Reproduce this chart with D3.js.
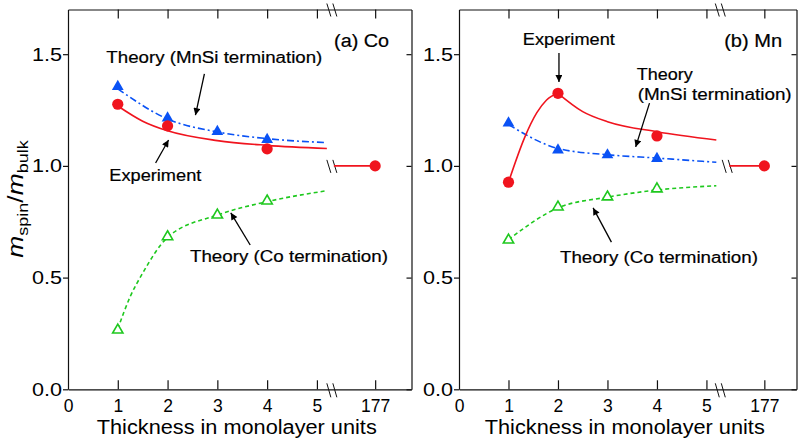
<!DOCTYPE html>
<html>
<head>
<meta charset="utf-8">
<script src="https://cdn.jsdelivr.net/npm/d3@7"></script>
<style>
  body { margin: 0; background: #fff; }
  svg { display: block; }
  text { font-family: "Liberation Sans", Arial, sans-serif; fill: #000; }
  .note { stroke: #000; stroke-width: 0.2; }
</style>
</head>
<body>
<svg></svg>
<script>
const width = 798, height = 442;

// monolayer positions and tick labels
const layers = [1, 2, 3, 4];
const expLayers = [1, 2, 4];
const xTickValues = [0, 1, 2, 3, 4, 5, 6.17];
const xTickLabels = ["0", "1", "2", "3", "4", "5", "177"];
const yTickValues = [0, 0.5, 1.0, 1.5];
const bulkValue = 1.0;

// (a) Co
const coExp = [1.276, 1.179, 1.076];
const coMnSi = [1.355, 1.214, 1.154, 1.118];
const coCoTerm = [0.265, 0.683, 0.78, 0.843];
// guide curves
const coExpCurveX = [1, 1.5, 2, 3, 4, 5.2];
const coExpCurveY = [1.268, 1.2, 1.157, 1.113, 1.092, 1.078];
const coMnSiCurveX = [1, 2, 3, 4, 5.2];
const coMnSiCurveY = [1.345, 1.21, 1.152, 1.122, 1.104];
const coCoCurveX = [1, 1.25, 1.5, 2, 3, 4, 5.2];
const coCoCurveY = [0.27, 0.415, 0.52, 0.68, 0.78, 0.84, 0.889];

// (b) Mn
const mnExp = [0.927, 1.325, 1.134];
const mnMnSi = [1.192, 1.071, 1.049, 1.033];
const mnCoTerm = [0.668, 0.816, 0.861, 0.897];
const mnExpRiseX = [1, 1.33, 1.57, 1.77, 2];
const mnExpRiseY = [0.927, 1.129, 1.237, 1.295, 1.325];
const mnExpDecayX = [2, 2.5, 3, 4, 5.2];
const mnExpDecayY = [1.325, 1.243, 1.198, 1.153, 1.116];
const mnMnSiCurveX = [1, 2, 3, 4, 5.2];
const mnMnSiCurveY = [1.185, 1.078, 1.05, 1.035, 1.016];
const mnCoCurveX = [1, 2, 3, 4, 5.2];
const mnCoCurveY = [0.67, 0.812, 0.86, 0.892, 0.911];

const red = "#f0141e", blue = "#0a52f5", green = "#1ec81e";

const svg = d3.select("svg").attr("width", width).attr("height", height);

svg.append("defs").append("marker")
  .attr("id", "arrow")
  .attr("viewBox", "0 0 10 10")
  .attr("refX", 10).attr("refY", 5)
  .attr("markerUnits", "userSpaceOnUse")
  .attr("markerWidth", 10).attr("markerHeight", 7)
  .attr("orient", "auto")
  .append("path").attr("d", "M0,0L10,5L0,10z").attr("fill", "#000");

const line = d3.line().curve(d3.curveMonotoneX);

function note(g, t, px, py, w, anchor, size) {
  g.append("text")
    .attr("class", "note")
    .attr("x", px).attr("y", py)
    .attr("font-size", size || 16)
    .attr("text-anchor", anchor || "start")
    .attr("textLength", w)
    .attr("lengthAdjust", "spacingAndGlyphs")
    .text(t);
}

function panel(cfg) {
  const x = d3.scaleLinear().domain([0, cfg.xMax]).range([cfg.left, cfg.right]);
  const y = d3.scaleLinear().domain([0, 1.7]).range([389.3, 9.5]);
  const g = svg.append("g");
  const bottom = y(0), top = y(1.7);

  // axes
  const gb = g.append("g").attr("transform", `translate(0,${bottom})`)
    .call(d3.axisBottom(x).tickValues(xTickValues)
      .tickFormat((d, i) => xTickLabels[i])
      .tickSizeInner(-9).tickSizeOuter(0).tickPadding(10.5));
  gb.selectAll(".tick line").filter(d => d === 0).remove();
  gb.selectAll("text").attr("font-size", 17.5);

  g.append("g").attr("transform", `translate(0,${top})`)
    .call(d3.axisTop(x).tickValues(xTickValues.slice(1))
      .tickFormat("").tickSizeInner(-9).tickSizeOuter(0));

  const gl = g.append("g").attr("transform", `translate(${cfg.left},0)`)
    .call(d3.axisLeft(y).tickValues(yTickValues).tickFormat(d3.format(".1f"))
      .tickSizeInner(5).tickSizeOuter(0).tickPadding(1));
  gl.selectAll("text").attr("font-size", 19)
    .attr("textLength", 30).attr("lengthAdjust", "spacingAndGlyphs");

  g.append("g").attr("transform", `translate(${cfg.right},0)`)
    .call(d3.axisRight(y).tickValues(yTickValues).tickFormat("")
      .tickSizeInner(-5).tickSizeOuter(0));

  g.selectAll(".domain, .tick line").attr("stroke", "#111").attr("stroke-width", 1.2);
  g.selectAll(".tick text").attr("fill", "#000");

  // axis break marks
  const bx = x(cfg.breakX);
  [0, 6].forEach(off => {
    g.append("line").attr("x1", bx - 5 + off).attr("y1", top - 6)
      .attr("x2", bx - 1 + off).attr("y2", top + 7)
      .attr("stroke", "#111").attr("stroke-width", 1);
    g.append("line").attr("x1", bx - 5 + off).attr("y1", bottom - 6)
      .attr("x2", bx - 1 + off).attr("y2", bottom + 8)
      .attr("stroke", "#111").attr("stroke-width", 1);
    g.append("line").attr("x1", x(cfg.dataBreakX) - 5 + off).attr("y1", y(bulkValue) - 6)
      .attr("x2", x(cfg.dataBreakX) - 1 + off).attr("y2", y(bulkValue) + 7)
      .attr("stroke", "#111").attr("stroke-width", 1);
  });

  // guide curves
  const pts = (xs, ys) => xs.map((v, i) => [x(v), y(ys[i])]);
  g.append("path").attr("d", line(pts(cfg.coX, cfg.coY)))
    .attr("fill", "none").attr("stroke", green).attr("stroke-width", 1.6)
    .attr("stroke-dasharray", "4,3");
  g.append("path").attr("d", line(pts(cfg.mnsiX, cfg.mnsiY)))
    .attr("fill", "none").attr("stroke", blue).attr("stroke-width", 1.6)
    .attr("stroke-dasharray", "7,3,2,3");
  cfg.expCurves.forEach(c => {
    g.append("path").attr("d", line(pts(c[0], c[1])))
      .attr("fill", "none").attr("stroke", red).attr("stroke-width", 1.6);
  });
  // bulk segment
  g.append("line")
    .attr("x1", x(cfg.dataBreakX) + 2).attr("x2", x(xTickValues[6]))
    .attr("y1", y(bulkValue)).attr("y2", y(bulkValue))
    .attr("stroke", red).attr("stroke-width", 1.6);

  // markers
  const tri = d3.symbol(d3.symbolTriangle);
  g.selectAll(".co").data(cfg.co).join("path")
    .attr("transform", (d, i) => `translate(${x(layers[i])},${y(d)})`)
    .attr("d", tri.size(46)())
    .attr("fill", "#fff").attr("stroke", green).attr("stroke-width", 1.6);
  g.selectAll(".mnsi").data(cfg.mnsi).join("path")
    .attr("transform", (d, i) => `translate(${x(layers[i])},${y(d)})`)
    .attr("d", tri.size(60)())
    .attr("fill", blue);
  g.selectAll(".exp").data(cfg.exp).join("circle")
    .attr("cx", (d, i) => x(expLayers[i])).attr("cy", d => y(d))
    .attr("r", 5.6).attr("fill", red);
  g.append("circle").attr("cx", x(xTickValues[6])).attr("cy", y(bulkValue))
    .attr("r", 5.6).attr("fill", red);

  // x title
  g.append("text")
    .attr("x", (cfg.left + cfg.right) / 2 - 3).attr("y", 434)
    .attr("text-anchor", "middle").attr("font-size", 19.5)
    .attr("textLength", 280).attr("lengthAdjust", "spacingAndGlyphs")
    .text("Thickness in monolayer units");

  // annotations
  cfg.notes.forEach(n => note(g, n[0], x(n[1]), y(n[2]), n[3], n[4], n[5]));
  cfg.arrows.forEach(a => {
    g.append("line")
      .attr("x1", x(a[0])).attr("y1", y(a[1]))
      .attr("x2", x(a[2])).attr("y2", y(a[3]))
      .attr("stroke", "#000").attr("stroke-width", 1.3)
      .attr("marker-end", "url(#arrow)");
  });
  return g;
}

panel({
  left: 68, right: 411.5, xMax: 6.9, breakX: 5.3, dataBreakX: 5.3,
  exp: coExp, mnsi: coMnSi, co: coCoTerm,
  coX: coCoCurveX, coY: coCoCurveY,
  mnsiX: coMnSiCurveX, mnsiY: coMnSiCurveY,
  expCurves: [[coExpCurveX, coExpCurveY]],
  notes: [
    ["Theory (MnSi termination)", 0.77, 1.461, 216],
    ["Experiment", 0.83, 0.932, 92],
    ["Theory (Co termination)", 2.45, 0.57, 198],
    ["(a) Co", 6.45, 1.532, 55, "end", 18]
  ],
  arrows: [
    [2.74, 1.412, 2.56, 1.227],
    [1.76, 1.013, 2.02, 1.116],
    [3.66, 0.646, 3.27, 0.79]
  ]
});

panel({
  left: 459, right: 796.5, xMax: 6.82, breakX: 5.28, dataBreakX: 5.42,
  exp: mnExp, mnsi: mnMnSi, co: mnCoTerm,
  coX: mnCoCurveX, coY: mnCoCurveY,
  mnsiX: mnMnSiCurveX, mnsiY: mnMnSiCurveY,
  expCurves: [[mnExpRiseX, mnExpRiseY], [mnExpDecayX, mnExpDecayY]],
  notes: [
    ["Experiment", 1.29, 1.541, 92],
    ["Theory", 3.59, 1.385, 56],
    ["(MnSi termination)", 3.61, 1.295, 154],
    ["Theory (Co termination)", 2.04, 0.565, 198],
    ["(b) Mn", 6.53, 1.532, 58, "end", 18]
  ],
  arrows: [
    [2.02, 1.505, 2.02, 1.376],
    [3.85, 1.281, 3.57, 1.085],
    [3.08, 0.659, 2.71, 0.812]
  ]
});

// y title
const yt = svg.append("text")
  .attr("transform", "translate(23,199) rotate(-90) scale(1.2,1)")
  .attr("text-anchor", "middle").attr("font-size", 22);
yt.append("tspan").attr("font-style", "italic").text("m");
yt.append("tspan").attr("font-size", 15).attr("baseline-shift", "-5").text("spin");
yt.append("tspan").text("/");
yt.append("tspan").attr("font-style", "italic").text("m");
yt.append("tspan").attr("font-size", 15).attr("baseline-shift", "-5").text("bulk");
</script>
</body>
</html>
